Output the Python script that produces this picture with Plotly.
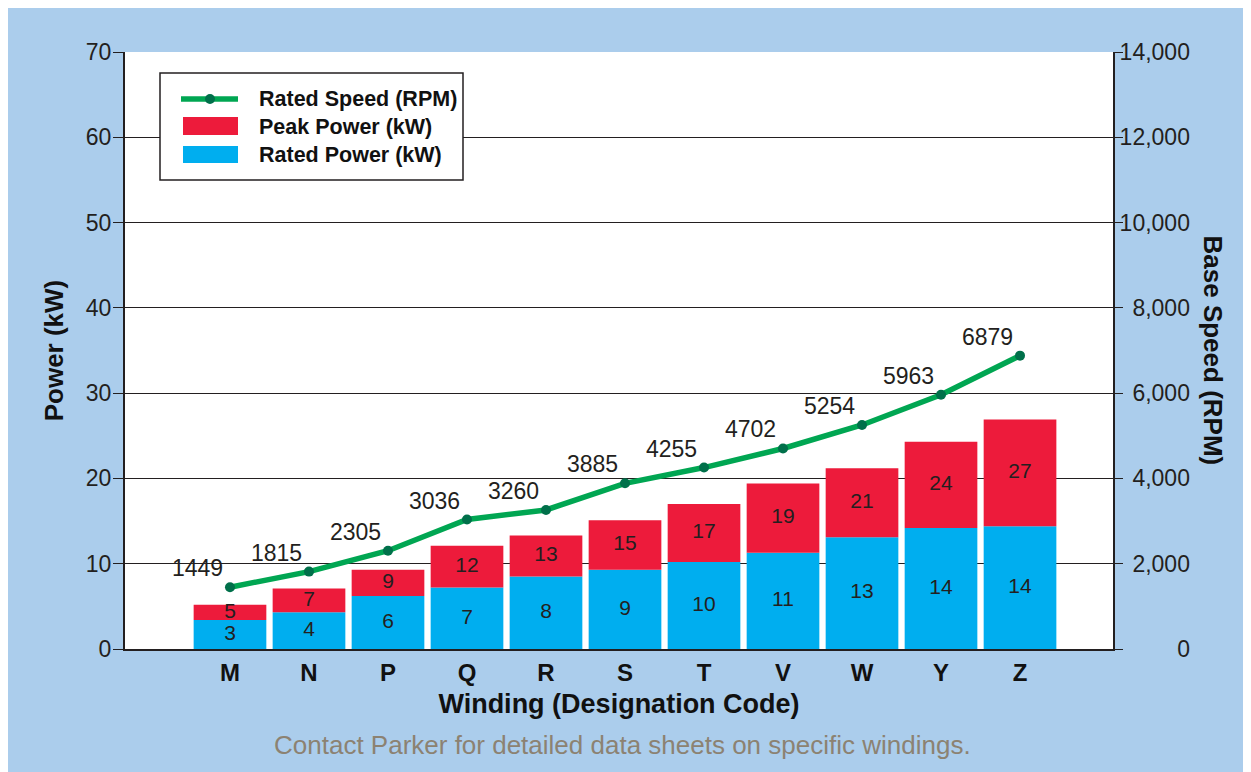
import plotly.graph_objects as go

categories = ["M", "N", "P", "Q", "R", "S", "T", "V", "W", "Y", "Z"]
rated_power = [3.4, 4.3, 6.2, 7.2, 8.5, 9.3, 10.2, 11.3, 13.1, 14.2, 14.4]
peak_power = [5.2, 7.1, 9.3, 12.1, 13.3, 15.1, 17.0, 19.4, 21.2, 24.3, 26.9]
rated_power_labels = ["3", "4", "6", "7", "8", "9", "10", "11", "13", "14", "14"]
peak_power_labels = ["5", "7", "9", "12", "13", "15", "17", "19", "21", "24", "27"]
rated_speed = [1449, 1815, 2305, 3036, 3260, 3885, 4255, 4702, 5254, 5963, 6879]

left_ticks = [0, 10, 20, 30, 40, 50, 60, 70]
right_ticks = [0, 2000, 4000, 6000, 8000, 10000, 12000, 14000]

legend_names = ["Rated Speed (RPM)", "Peak Power (kW)", "Rated Power (kW)"]

BG = "#ABCDEC"
BLUE = "#00AEEF"
RED = "#ED1B3B"
GREEN = "#00A652"
DKGREEN = "#00704A"
INK = "#231F20"
FONT = "Liberation Sans, Arial, Helvetica, sans-serif"

# plot area in page pixels (page has an 8px body margin)
PL, PR, PT, PB = 125, 1113, 52, 649
PW, PH = PR - PL, PB - PT


def px(x):
    return (x - PL) / PW


def py(y):
    return 1 - (y - PT) / PH


x_idx = list(range(len(categories)))
red_part = [p - r for p, r in zip(peak_power, rated_power)]

fig = go.Figure()
fig.add_trace(go.Bar(x=x_idx, y=rated_power, name=legend_names[2], marker=dict(color=BLUE, line=dict(width=0)),
                     width=0.92, showlegend=False, hoverinfo="skip"))
fig.add_trace(go.Bar(x=x_idx, y=red_part, base=rated_power, name=legend_names[1],
                     marker=dict(color=RED, line=dict(width=0)), width=0.92, showlegend=False, hoverinfo="skip"))
fig.add_trace(go.Scatter(x=x_idx, y=[r / 2 for r in rated_power], mode="text", text=rated_power_labels,
                         textfont=dict(size=21, color=INK, family=FONT), showlegend=False, hoverinfo="skip"))
fig.add_trace(go.Scatter(x=x_idx, y=[(r + p) / 2 for r, p in zip(rated_power, peak_power)], mode="text",
                         text=peak_power_labels, textfont=dict(size=21, color=INK, family=FONT),
                         showlegend=False, hoverinfo="skip"))
fig.add_trace(go.Scatter(x=x_idx, y=rated_speed, yaxis="y2", mode="lines+markers", name=legend_names[0],
                         line=dict(color=GREEN, width=5.5), marker=dict(color=DKGREEN, size=10),
                         showlegend=False, hoverinfo="skip"))

for i, v in enumerate(rated_speed):
    fig.add_annotation(x=i, y=v, yref="y2", text=str(v), showarrow=False, xanchor="right", yanchor="bottom",
                       xshift=-5, yshift=4, font=dict(size=23, color=INK, family=FONT))


def pad(v):
    s = f"{v:,}"
    full = "14,000"
    nd = sum(c.isdigit() for c in full) - sum(c.isdigit() for c in s)
    nc = full.count(",") - s.count(",")
    return "\u2007" * nd + "\u2008" * nc + s


fig.update_layout(
    width=1243, height=764,
    margin=dict(l=117, r=138, t=44, b=123),
    paper_bgcolor=BG, plot_bgcolor="white",
    barmode="overlay",
    font=dict(family=FONT, color=INK, size=19),
    showlegend=False,
    xaxis=dict(range=[-1.329, 11.177], tickvals=x_idx, ticktext=categories, showgrid=False, zeroline=False,
               showline=True, linecolor=INK, linewidth=2, ticks="", ticklabelstandoff=1,
               tickfont=dict(size=24, family=FONT, color="#111", weight="bold"),
               title=dict(text="Winding (Designation Code)", standoff=9,
                          font=dict(size=27, family=FONT, color="#111", weight="bold"))),
    yaxis=dict(range=[0, 70], tickvals=left_ticks, showgrid=True, gridcolor=INK, gridwidth=1,
               zeroline=False, showline=True, linecolor=INK, linewidth=2, ticks="outside", ticklen=10,
               tickcolor=INK, ticklabelstandoff=-3, tickfont=dict(size=23, family=FONT, color=INK),
               title=dict(text="Power (kW)", standoff=15,
                          font=dict(size=26, family=FONT, color="#111", weight="bold"))),
    yaxis2=dict(range=[0, 14000], overlaying="y", side="right", tickvals=right_ticks,
                ticktext=[pad(v) for v in right_ticks], showgrid=False, zeroline=False, showline=True,
                linecolor=INK, linewidth=2, ticks="outside", ticklen=8, tickcolor=INK, ticklabelstandoff=-8,
                tickfont=dict(size=23, family=FONT, color=INK)),
)

# right axis title reading top-to-bottom
fig.add_annotation(x=px(1213), y=0.5, xref="paper", yref="paper", text="<b>Base Speed (RPM)</b>", textangle=90,
                   xanchor="center", yanchor="middle", showarrow=False,
                   font=dict(size=26, family=FONT, color="#111"))
# caption
fig.add_annotation(x=px(622), y=py(745), xref="paper", yref="paper",
                   text="Contact Parker for detailed data sheets on specific windings.",
                   showarrow=False, xanchor="center", yanchor="middle", font=dict(size=26, family=FONT, color="#8C8272"))

# legend box (drawn with shapes)
fig.add_shape(type="rect", xref="paper", yref="paper", x0=px(160), x1=px(463), y0=py(180), y1=py(73),
              fillcolor="white", line=dict(color=INK, width=1.5), layer="above")
fig.add_shape(type="line", xref="paper", yref="paper", x0=px(181), x1=px(238), y0=py(99), y1=py(99),
              line=dict(color=GREEN, width=5.5), layer="above")
fig.add_shape(type="circle", xref="paper", yref="paper", x0=px(205), x1=px(215), y0=py(104), y1=py(94),
              fillcolor=DKGREEN, line=dict(width=0), layer="above")
fig.add_shape(type="rect", xref="paper", yref="paper", x0=px(183), x1=px(238), y0=py(135), y1=py(117),
              fillcolor=RED, line=dict(width=0), layer="above")
fig.add_shape(type="rect", xref="paper", yref="paper", x0=px(183), x1=px(238), y0=py(163), y1=py(146),
              fillcolor=BLUE, line=dict(width=0), layer="above")
for name, yc in zip(legend_names, [99, 127, 155]):
    fig.add_annotation(x=px(257), y=py(yc), xref="paper", yref="paper", text=f"<b>{name}</b>", showarrow=False,
                       xanchor="left", yanchor="middle", font=dict(size=21.5, family=FONT, color="#111"))

fig.write_html("out.html")
